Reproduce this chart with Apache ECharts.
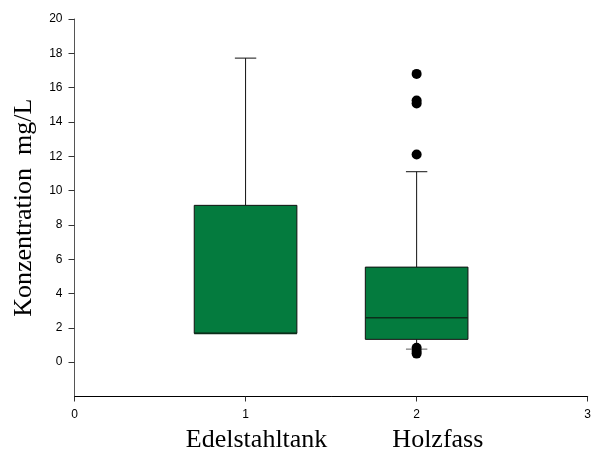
<!DOCTYPE html>
<html>
<head>
<meta charset="utf-8">
<script src="https://cdn.jsdelivr.net/npm/echarts@6/dist/echarts.min.js"></script>
<style>
  html, body { margin: 0; padding: 0; background: #fff; }
  #chart { width: 594px; height: 451px; }
</style>
</head>
<body>
<div id="chart"></div>
<script>
// Groups and their positions on the numeric x axis
const categories = ['Edelstahltank', 'Holzfass'];
const positions = [1, 2];

// Box statistics per group
const whiskerLow = [1.68, 0.76];
const quartile1 = [1.68, 1.33];
const medians = [1.68, 2.59];
const quartile3 = [9.14, 5.54];
const whiskerHigh = [17.72, 11.1];

// Points beyond the whiskers
const outliers = [
  [],
  [16.8, 15.25, 15.08, 12.1, 0.84, 0.65, 0.5]
];

// Axis ticks
const yTicks = [0, 2, 4, 6, 8, 10, 12, 14, 16, 18, 20];
const xTicks = [0, 1, 2, 3];

const boxData = positions.map((p, i) => [p, whiskerLow[i], quartile1[i], medians[i], quartile3[i], whiskerHigh[i]]);
const outlierData = [];
outliers.forEach((list, i) => list.forEach(v => outlierData.push([positions[i], v])));

const BOX_WIDTH = 0.6;   // in x-axis units
const CAP_WIDTH = 0.125; // in x-axis units

function renderBox(params, api) {
  const x = api.value(0);
  const lo = api.coord([x, api.value(1)]);
  const q1 = api.coord([x, api.value(2)]);
  const md = api.coord([x, api.value(3)]);
  const q3 = api.coord([x, api.value(4)]);
  const hi = api.coord([x, api.value(5)]);
  const halfBox = api.size([BOX_WIDTH, 0])[0] / 2;
  const halfCap = api.size([CAP_WIDTH, 0])[0] / 2;
  const cx = q1[0];
  const lineStyle = { stroke: '#111', lineWidth: 1, fill: null };
  return {
    type: 'group',
    children: [
      { type: 'line', shape: { x1: cx, y1: q3[1], x2: cx, y2: hi[1] }, style: lineStyle },
      { type: 'line', shape: { x1: cx - halfCap, y1: hi[1], x2: cx + halfCap, y2: hi[1] }, style: lineStyle },
      { type: 'line', shape: { x1: cx, y1: q1[1], x2: cx, y2: lo[1] }, style: lineStyle },
      { type: 'line', shape: { x1: cx - halfCap, y1: lo[1], x2: cx + halfCap, y2: lo[1] }, style: { stroke: '#777', lineWidth: 1.2 } },
      {
        type: 'rect',
        shape: { x: cx - halfBox, y: q3[1], width: halfBox * 2, height: q1[1] - q3[1] },
        style: { fill: '#047b3e', stroke: '#111', lineWidth: 1 }
      },
      { type: 'line', shape: { x1: cx - halfBox, y1: md[1], x2: cx + halfBox, y2: md[1] }, style: { stroke: '#0c2e1a', lineWidth: 1.6 } }
    ]
  };
}

const chart = echarts.init(document.getElementById('chart'), null, { renderer: 'canvas' });
chart.setOption({
  animation: false,
  backgroundColor: '#fff',
  grid: { left: 74.5, right: 6.3, top: 19, bottom: 54.5, outerBoundsMode: 'none', containLabel: false },
  xAxis: {
    type: 'value',
    min: 0,
    max: 3,
    interval: 1,
    name: categories.join('          '),
    nameLocation: 'middle',
    nameGap: 31,
    nameTextStyle: { fontFamily: 'Liberation Serif', fontSize: 26, color: '#000', padding: [0, 0, 0, 7] },
    splitLine: { show: false },
    axisLine: { show: true, onZero: false, lineStyle: { color: '#000', width: 1 } },
    axisTick: { show: true, inside: false, length: 5, lineStyle: { color: '#333' }, customValues: xTicks },
    axisLabel: { fontFamily: 'Liberation Sans', fontSize: 12, color: '#000', margin: 12, customValues: xTicks }
  },
  yAxis: {
    type: 'value',
    min: -2,
    max: 20,
    interval: 2,
    name: 'Konzentration  mg/L',
    nameLocation: 'middle',
    nameGap: 37,
    nameTextStyle: { fontFamily: 'Liberation Serif', fontSize: 26, color: '#000' },
    splitLine: { show: false },
    axisLine: { show: true, onZero: false, lineStyle: { color: '#555', width: 1 } },
    axisTick: { show: true, inside: false, length: 6, lineStyle: { color: '#333' }, customValues: yTicks },
    axisLabel: { fontFamily: 'Liberation Sans', fontSize: 12, color: '#000', margin: 12, customValues: yTicks }
  },
  series: [
    {
      type: 'custom',
      renderItem: renderBox,
      data: boxData,
      encode: { x: 0, y: [1, 2, 3, 4, 5] },
      z: 2
    },
    {
      type: 'scatter',
      data: outlierData,
      symbol: 'circle',
      symbolSize: 10,
      itemStyle: { color: '#000', opacity: 1 },
      z: 3
    }
  ]
});
</script>
</body>
</html>
